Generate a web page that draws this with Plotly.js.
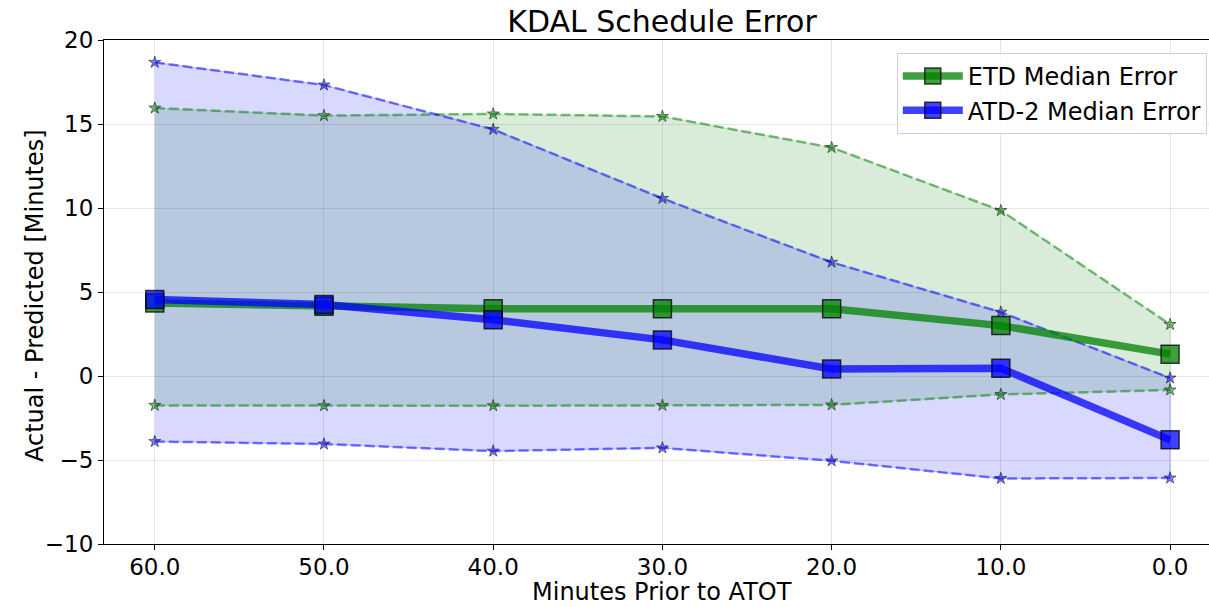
<!DOCTYPE html>
<html>
<head>
<meta charset="utf-8">
<script src="https://cdn.plot.ly/plotly-3.0.1.min.js"></script>
<style>html,body{margin:0;padding:0;background:#fff;}#chart{width:1209px;height:607px;}</style>
</head>
<body>
<div id="chart"></div>
<script>
const minutesPrior = [60, 50, 40, 30, 20, 10, 0];
const etdMedian = [4.35, 4.15, 4.0, 4.0, 4.0, 3.0, 1.3];
const etdUpper = [15.95, 15.5, 15.6, 15.45, 13.6, 9.85, 3.07];
const etdLower = [-1.75, -1.77, -1.77, -1.75, -1.72, -1.1, -0.83];
const atdMedian = [4.55, 4.25, 3.35, 2.15, 0.42, 0.46, -3.8];
const atdUpper = [18.67, 17.32, 14.68, 10.57, 6.77, 3.8, -0.12];
const atdLower = [-3.9, -4.05, -4.47, -4.28, -5.05, -6.1, -6.07];
const yTicks = [-10, -5, 0, 5, 10, 15, 20];

function band(upper, lower, fillColor, edgeColor) {
  return {
    x: minutesPrior.concat(minutesPrior.slice().reverse()),
    y: upper.concat(lower.slice().reverse()),
    type: 'scatter', mode: 'lines', fill: 'toself',
    fillcolor: fillColor, line: {color: edgeColor, width: 1},
    showlegend: false, hoverinfo: 'skip'
  };
}
function dashed(vals, color) {
  return {
    x: minutesPrior, y: vals, type: 'scatter', mode: 'lines+markers',
    line: {color: color, width: 2.5, dash: '10px,4px'},
    marker: {symbol: 'star', size: 9, color: color, line: {color: 'rgba(0,0,0,0.5)', width: 1}},
    showlegend: false
  };
}
function median(vals, color, name) {
  return {
    x: minutesPrior, y: vals, type: 'scatter', mode: 'lines+markers', name: name,
    line: {color: color, width: 7.5},
    marker: {symbol: 'square', size: 18, color: color, line: {color: 'rgba(0,0,0,0.75)', width: 1.5}}
  };
}

const traces = [
  band(etdUpper, etdLower, 'rgba(0,128,0,0.15)', 'rgba(0,128,0,0.15)'),
  band(atdUpper, atdLower, 'rgba(0,0,255,0.15)', 'rgba(0,0,255,0.25)'),
  dashed(etdUpper, 'rgba(0,128,0,0.5)'),
  dashed(etdLower, 'rgba(0,128,0,0.5)'),
  dashed(atdUpper, 'rgba(0,0,255,0.5)'),
  dashed(atdLower, 'rgba(0,0,255,0.5)'),
  median(etdMedian, 'rgba(0,128,0,0.75)', 'ETD Median Error'),
  median(atdMedian, 'rgba(0,0,255,0.75)', 'ATD-2 Median Error'),
  {x: minutesPrior, y: etdMedian, xaxis: 'x2', type: 'scatter', mode: 'markers',
   marker: {opacity: 0}, showlegend: false, hoverinfo: 'skip'}
];

const font = 'DejaVu Sans, sans-serif';
const xRange = [63.0, -2.3];
const layout = {
  width: 1209, height: 607,
  margin: {l: 104, r: 0, t: 40, b: 63},
  paper_bgcolor: '#fff', plot_bgcolor: '#fff',
  font: {family: font, color: '#000'},
  title: {text: 'KDAL Schedule Error', font: {size: 30, family: font, color: '#000'},
          x: 662/1209, xref: 'container', xanchor: 'center', y: 1 - 21/607, yref: 'container', yanchor: 'middle'},
  xaxis: {
    range: xRange, tickvals: minutesPrior, showticklabels: false,
    ticks: 'outside', ticklen: 5, tickcolor: '#000', tickwidth: 1,
    showline: true, linecolor: '#000', linewidth: 1, mirror: true,
    showgrid: true, gridcolor: 'rgba(0,0,0,0.1)', zeroline: false
  },
  xaxis2: {
    range: xRange, overlaying: 'x', anchor: 'y', side: 'bottom',
    tickvals: minutesPrior, tickformat: '.1f', ticks: '', ticklabelstandoff: 7,
    tickfont: {size: 23, family: font, color: '#000'},
    showline: false, showgrid: false, zeroline: false
  },
  yaxis: {
    range: [-10, 20], tickvals: yTicks,
    ticks: 'outside', ticklen: 5, tickcolor: '#000', tickwidth: 1,
    tickfont: {size: 23, family: font, color: '#000'},
    showline: true, linecolor: '#000', linewidth: 1,
    showgrid: true, gridcolor: 'rgba(0,0,0,0.1)', zeroline: false
  },
  annotations: [
    {text: 'Minutes Prior to ATOT', xref: 'paper', yref: 'paper', x: (662 - 104) / 1105, y: 1 - (592 - 40) / 504,
     xanchor: 'center', yanchor: 'middle', showarrow: false, font: {size: 24, family: font, color: '#000'}},
    {text: 'Actual - Predicted [Minutes]', xref: 'paper', yref: 'paper', x: (35 - 104) / 1105, y: 1 - (296 - 40) / 504,
     xanchor: 'center', yanchor: 'middle', textangle: -90, showarrow: false, font: {size: 24, family: font, color: '#000'}}
  ],
  legend: {
    x: 0.998, xanchor: 'right', y: 1 - 13/504, yanchor: 'top', itemwidth: 60,
    bgcolor: 'rgba(255,255,255,0.8)', bordercolor: '#d0d0d0', borderwidth: 1,
    font: {size: 24, family: font, color: '#000'}
  },
  showlegend: true
};
Plotly.newPlot('chart', traces, layout, {displayModeBar: false, staticPlot: true});
</script>
</body>
</html>
